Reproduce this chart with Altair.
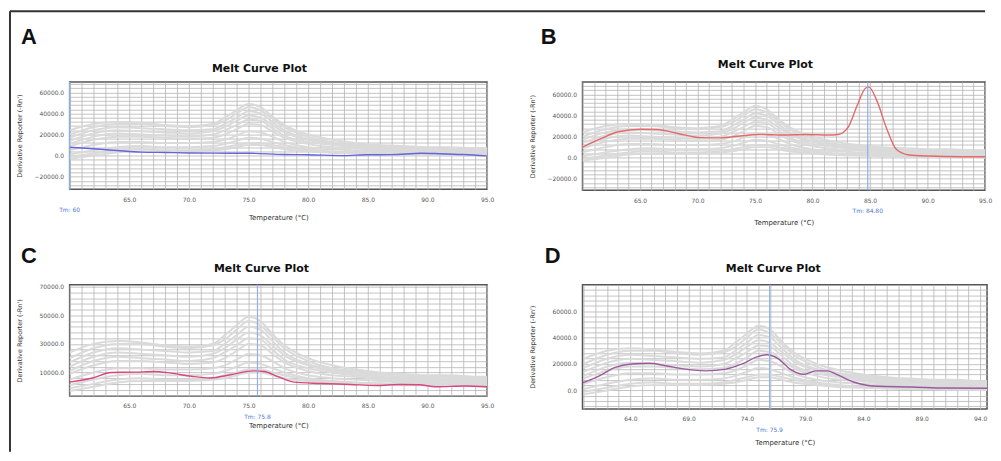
import altair as alt
import pandas as pd

# ---------------- data ----------------
panel_letters = ["A", "B", "C", "D"]
plot_title = "Melt Curve Plot"
x_title = "Temperature (°C)"
y_title = "Derivative Reporter (-Rn')"

# background curves (other wells), shared by all panels
gray_temps = [60, 62, 64, 66, 68, 70, 72, 73, 74, 75, 76, 77, 78, 80, 82, 84, 86, 88, 90, 92, 94, 95]
gray_1 = [20000, 27000, 30000, 30000, 28000, 27000, 29000, 33000, 40000, 46000, 43000, 35000, 27000, 18000, 13000, 11000, 9000, 8000, 7000, 7000, 6000, 6000]
gray_2 = [14000, 21000, 24000, 23000, 22000, 21000, 23000, 27000, 33000, 38000, 36000, 29000, 22000, 15000, 11000, 9000, 7000, 6000, 5000, 5000, 4000, 4000]
gray_3 = [9000, 15000, 18000, 18000, 17000, 16000, 17000, 20000, 25000, 30000, 29000, 23000, 17000, 11000, 8000, 7000, 5000, 4000, 4000, 3000, 3000, 3000]
gray_4 = [5000, 10000, 13000, 13000, 12000, 12000, 13000, 15000, 19000, 23000, 22000, 18000, 13000, 8000, 6000, 5000, 4000, 3000, 3000, 2000, 2000, 2000]
gray_5 = [1000, 5000, 8000, 9000, 8000, 8000, 9000, 11000, 14000, 17000, 16000, 13000, 10000, 6000, 4000, 3000, 2500, 2000, 2000, 1500, 1000, 1000]
gray_6 = [-3000, 0, 3000, 4000, 4000, 4000, 5000, 6000, 8000, 10000, 10000, 8000, 6000, 4000, 2500, 2000, 1500, 1000, 1000, 500, 500, 0]
gray_7 = [17000, 24000, 27000, 26000, 25000, 24000, 25000, 30000, 36000, 42000, 40000, 32000, 24000, 16000, 12000, 10000, 8000, 7000, 6000, 6000, 5000, 5000]
gray_8 = [11000, 18000, 21000, 20000, 19000, 18000, 20000, 24000, 29000, 34000, 33000, 26000, 19000, 13000, 10000, 8000, 6000, 5000, 5000, 4000, 3500, 3500]
gray_9 = [-1000, 2000, 5000, 6000, 5000, 5000, 6000, 8000, 10000, 12000, 12000, 10000, 8000, 5000, 3000, 2500, 2000, 1500, 1500, 1000, 500, 500]
gray_10 = [24000, 30000, 32000, 31000, 29000, 28000, 30000, 36000, 43000, 49000, 46000, 37000, 29000, 20000, 15000, 12000, 10000, 9000, 8000, 8000, 7000, 7000]
gray_series = [gray_1, gray_2, gray_3, gray_4, gray_5, gray_6, gray_7, gray_8, gray_9, gray_10]

# highlighted curves
a_temps = [60, 62, 64, 66, 68, 70, 72, 75, 78, 80, 83, 85, 87, 89.5, 91, 93, 95]
a_values = [7900, 6500, 4800, 3300, 2900, 2500, 2300, 2200, 1000, 800, 0, 800, 900, 2200, 1800, 1000, -300]

b_temps = [60, 61.7, 63.1, 65.1, 66.5, 68.3, 70.3, 72, 73.7, 75.4, 77.4, 79.4, 81.4, 82.2, 83.1, 83.9, 84.6, 84.9, 85.6, 86.4, 87.3, 88.4, 90.1, 93, 95]
b_values = [10000, 18500, 24600, 27000, 26800, 23000, 19000, 18800, 20600, 22000, 21500, 22000, 21500, 22000, 29000, 50000, 66000, 67000, 54000, 29000, 7700, 2500, 1500, 900, 900]

c_temps = [60, 61.9, 63.5, 65.5, 67.1, 68.5, 70.2, 71.8, 73.5, 75.4, 76.3, 77.4, 78.8, 81, 83.5, 85.7, 87.6, 89.3, 90.7, 93.2, 95]
c_values = [3200, 6100, 10000, 10200, 10700, 9500, 7300, 6100, 8400, 11100, 10700, 7300, 3200, 2300, 1600, 900, 1600, 1400, 0, 500, 0]

d_temps = [59.9, 61.3, 62.7, 64.1, 65.6, 67, 68.7, 70.5, 72.2, 73.6, 74.8, 75.7, 76.7, 77.7, 78.9, 79.9, 80.9, 81.8, 83.2, 85.2, 88.1, 91, 94.6]
d_values = [5700, 10900, 17400, 20000, 20500, 18700, 16100, 14800, 16100, 20000, 25200, 27000, 23900, 16100, 12200, 14800, 14800, 11700, 6200, 3100, 2600, 1800, 1600]

tm_values = [60.0, 84.8, 75.75, 75.95]
tm_labels = ["Tm: 60", "Tm: 84.80", "Tm: 75.8", "Tm: 75.9"]

x_domains = [[60, 95], [60, 95], [60, 95], [59.9, 94.6]]
x_label_values = [
    [65, 70, 75, 80, 85, 90, 95],
    [65, 70, 75, 80, 85, 90, 95],
    [65, 70, 75, 80, 85, 90, 95],
    [64, 69, 74, 79, 84, 89, 94],
]
y_domains = [[-32000, 70000], [-31000, 72000], [-6500, 71500], [-14000, 80000]]
y_label_values = [
    [-20000, 0, 20000, 40000, 60000],
    [-20000, 0, 20000, 40000, 60000],
    [10000, 30000, 50000, 70000],
    [0, 20000, 40000, 60000],
]
y_grid_start = [-28000, -28000, -6000, -12000]

line_colors = ["#6464dc", "#e26a6a", "#d8467c", "#9c5a9c"]

# ---------------- layout / style ----------------
sizes = [(420, 108), (405, 109), (420, 112), (407, 125)]
letter_pos = [(-49, -38), (-42, -38), (-49, -22), (-38, -22)]
title_pos = [(191, -13), (184, -17), (193, -16), (192, -16)]
x_title_off = [28, 32, 30, 34]

GRID = "#b4b4b4"
FONT = "DejaVu Sans"


def gray_frame():
    rows = []
    for k, s in enumerate(gray_series):
        for t, v in zip(gray_temps, s):
            rows.append({"temp": t, "val": v, "well": f"w{k}"})
    return pd.DataFrame(rows)


def panel(i, temps, values):
    w, h = sizes[i]
    xs = alt.Scale(domain=x_domains[i], nice=False, zero=False)
    ys = alt.Scale(domain=y_domains[i], nice=False, zero=False)
    xl = ", ".join(str(v) for v in x_label_values[i])
    yl = ", ".join(str(v) for v in y_label_values[i])
    xmin = int(round(x_domains[i][0] + 0.49))
    xmax = int(x_domains[i][1])
    x_axis = alt.Axis(
        values=list(range(xmin, xmax + 1)),
        labelExpr="indexof([" + xl + "], datum.value) >= 0 ? format(datum.value, '.1f') : ''",
        labelOverlap=False, labelFlush=False,
        grid=True, gridColor=GRID, gridWidth=0.8,
        ticks=False, domain=False,
        labelFontSize=6, labelColor="#555", labelPadding=7, labelFont=FONT,
        title=x_title, titleFontSize=7, titleFontWeight="normal", titleColor="#333",
        titleFont=FONT, titleY=x_title_off[i], titleBaseline="middle",
    )
    ymax = y_domains[i][1]
    y_axis = alt.Axis(
        values=list(range(y_grid_start[i], ymax, 4000)),
        labelExpr="indexof([" + yl + "], datum.value) >= 0 ? format(datum.value, '.1f') : ''",
        labelOverlap=False, labelFlush=False,
        grid=True, gridColor=GRID, gridWidth=0.8,
        ticks=False, domain=False,
        labelFontSize=6, labelColor="#555", labelPadding=6, labelFont=FONT,
        title=y_title, titleFontSize=6.5, titleFontWeight="normal", titleColor="#333",
        titleFont=FONT, titleX=-50, titleY=h / 2, titleBaseline="middle", titleAngle=-90,
    )

    gray = alt.Chart(gray_frame()).mark_line(
        color="#dadada", strokeWidth=2, interpolate="monotone", clip=True
    ).encode(
        x=alt.X("temp:Q", scale=xs, axis=x_axis),
        y=alt.Y("val:Q", scale=ys, axis=y_axis),
        detail="well:N",
    )
    main = alt.Chart(pd.DataFrame({"temp": temps, "val": values})).mark_line(
        color=line_colors[i], strokeWidth=1.4, interpolate="monotone", clip=True
    ).encode(
        x=alt.X("temp:Q", scale=xs, axis=x_axis),
        y=alt.Y("val:Q", scale=ys, axis=y_axis),
    )
    tmdf = pd.DataFrame({"temp": [tm_values[i]], "label": [tm_labels[i]]})
    tm_rule = alt.Chart(tmdf).mark_rule(color="#8fb0ea", strokeWidth=1.2).encode(
        x=alt.X("temp:Q", scale=xs, axis=x_axis)
    )
    tm_text = alt.Chart(tmdf).mark_text(
        color="#4a78d0", fontSize=6, font=FONT, baseline="middle"
    ).encode(
        x=alt.X("temp:Q", scale=xs, axis=x_axis),
        y=alt.value(h + 21),
        text="label:N",
    )
    lx, ly = letter_pos[i]
    letter = alt.Chart(pd.DataFrame({"t": [panel_letters[i]]})).mark_text(
        align="left", baseline="alphabetic", fontSize=22, fontWeight="bold",
        font="Liberation Sans", color="#111"
    ).encode(x=alt.value(lx), y=alt.value(ly), text="t:N")
    tx, ty = title_pos[i]
    title = alt.Chart(pd.DataFrame({"t": [plot_title]})).mark_text(
        align="center", baseline="middle", fontSize=11, fontWeight="bold",
        font=FONT, color="#111"
    ).encode(x=alt.value(tx), y=alt.value(ty), text="t:N")

    layers = [gray, main, tm_rule, tm_text, letter, title]
    if i == 0:
        one = pd.DataFrame({"k": [0]})
        frame_left = alt.Chart(one).mark_rule(color="#333", strokeWidth=2).encode(
            x=alt.value(-60), y=alt.value(-71), y2=alt.value(372)
        )
        frame_top = alt.Chart(one).mark_rule(color="#333", strokeWidth=2).encode(
            x=alt.value(-60), x2=alt.value(921), y=alt.value(-71)
        )
        layers += [frame_left, frame_top]
    return alt.layer(*layers).properties(width=w, height=h)


pA = panel(0, a_temps, a_values)
pB = panel(1, b_temps, b_values)
pC = panel(2, c_temps, c_values)
pD = panel(3, d_temps, d_values)

chart = alt.ConcatChart(
    concat=[pA, pB, pC, pD],
    columns=2,
    spacing={"row": 95, "column": 96},
    bounds="flush",
    align="each",
).properties(padding=0, background="white").configure_view(
    stroke="#555", strokeWidth=1.5
)

chart.save("out.html", embed_options={"renderer": "svg", "actions": False})
